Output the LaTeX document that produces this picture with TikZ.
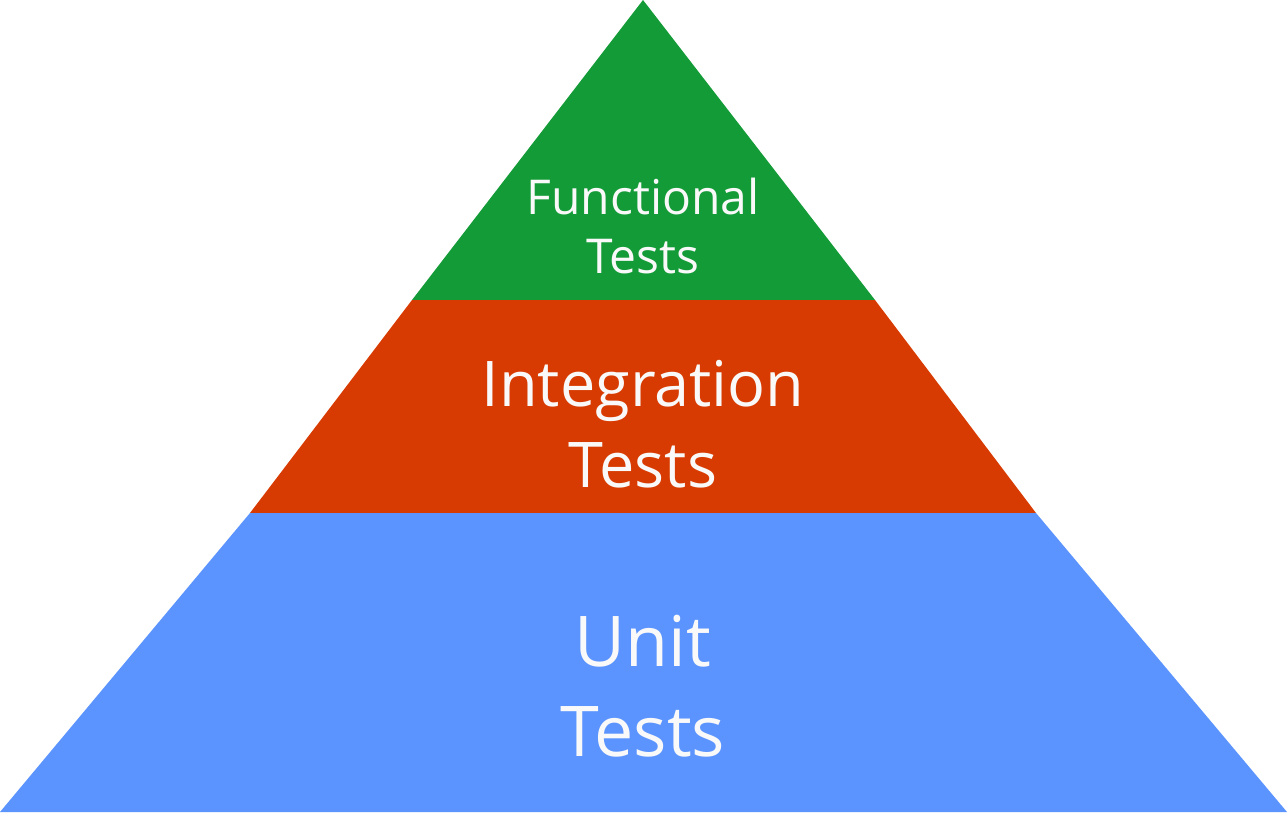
\documentclass[tikz,border=0pt]{standalone}
\usepackage{fontspec}
\setmainfont{Open Sans}
\usepackage{tikz}
\definecolor{layerGreen}{RGB}{19,155,55}
\definecolor{layerRed}{RGB}{216,59,1}
\definecolor{layerBlue}{RGB}{91,148,255}
\definecolor{labelWhite}{RGB}{249,249,249}
\tikzset{%
  % Specifications for style of layers and labels:
        layer/.style = {draw=none},
   functional/.style = {layer, fill=layerGreen},
  integration/.style = {layer, fill=layerRed},
         unit/.style = {layer, fill=layerBlue},
   layerLabel/.style = {text=labelWhite, align=center, inner sep=0pt},
}

\begin{document}
\begin{tikzpicture}[x=1pt, y=-1pt]
  \useasboundingbox (0,0) rectangle (1287,812);
  % Corners of the pyramid
  \coordinate (apex)   at (643,0);
  \coordinate (greenL) at (412,300);
  \coordinate (greenR) at (875,300);
  \coordinate (redL)   at (250,513);
  \coordinate (redR)   at (1036,513);
  \coordinate (baseL)  at (0,812);
  \coordinate (baseR)  at (1287,812);
  % Layers of the pyramid
  \fill[functional]  (apex) -- (greenR) -- (greenL) -- cycle;
  \fill[integration] (greenL) -- (greenR) -- (redR) -- (redL) -- cycle;
  \fill[unit]        (redL) -- (redR) -- (baseR) -- (baseL) -- cycle;
  % Labels of the layers
  \node (functionalTests)  [layerLabel, font=\fontsize{48}{59}\selectfont]
                                  at (643,226) {Functional\\Tests};
  \node (integrationTests) [layerLabel, font=\fontsize{63}{81}\selectfont]
                                  at (643,424) {Integration\\Tests};
  \node (unitTests)        [layerLabel, font=\fontsize{70}{90}\selectfont]
                                  at (643,686) {Unit\\Tests};
\end{tikzpicture}
\end{document}
